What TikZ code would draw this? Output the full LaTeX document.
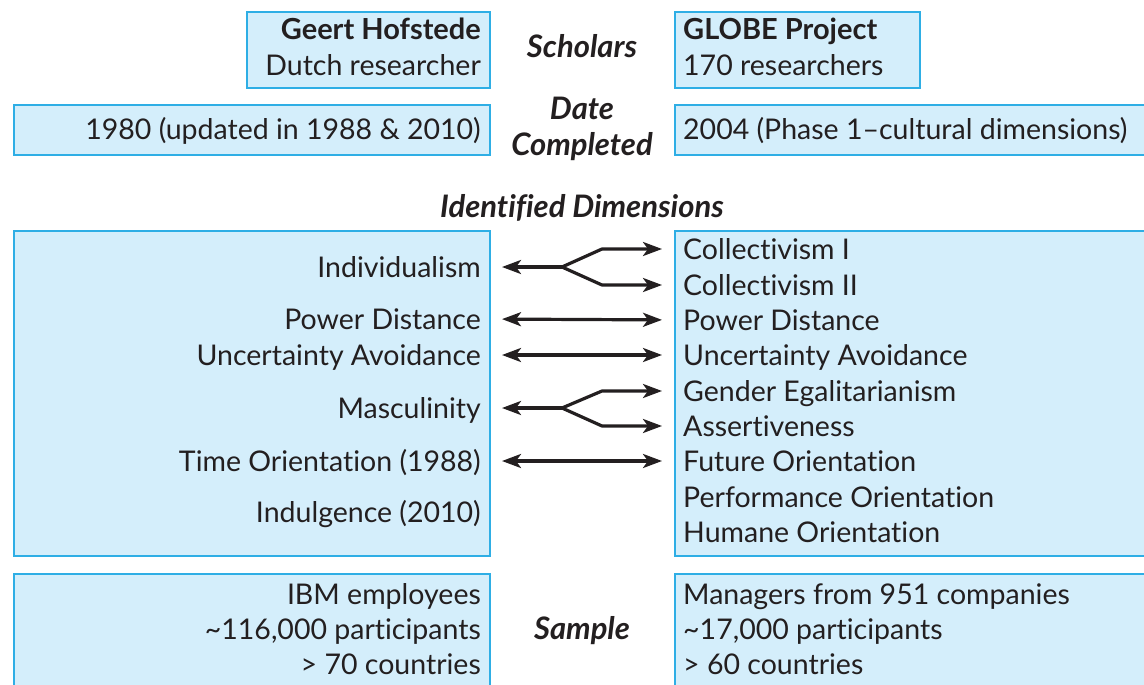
\documentclass[tikz,border=0pt]{standalone}
\usepackage{fontspec}
\setmainfont{Lato}[Ligatures=NoCommon]
\usetikzlibrary{arrows.meta}

\definecolor{boxfill}{HTML}{D4EEFB}
\definecolor{boxline}{HTML}{2EAEE5}
\definecolor{ink}{HTML}{231F20}

\tikzset{
  box/.style={draw=boxline, fill=boxfill, line width=2pt, anchor=north west, inner sep=0pt},
  dim/.style={font=\fontsize{28.5}{34}\selectfont, text=ink, inner sep=0pt, text height=20.5pt, text depth=0pt},
  ltxt/.style={dim, anchor=east},
  rtxt/.style={dim, anchor=west},
  head/.style={dim, font=\fontsize{31}{36}\selectfont\bfseries\itshape},
  boldname/.style={font=\fontsize{29}{34}\selectfont\bfseries},
  headtip/.tip={Stealth[length=19pt, width=14pt, inset=5pt]},
  link/.style={draw=ink, line width=3.2pt, line join=round},
  both/.style={link, headtip-headtip, shorten <=21pt, shorten >=21pt},
  back/.style={link, headtip-, shorten <=21pt},
  fwd/.style={link, -headtip, shorten >=21pt}
}

\begin{document}
\begin{tikzpicture}[x=1pt, y=-1pt]
  \useasboundingbox (0,0) rectangle (1144,685);
  \clip (0,0) rectangle (1144,685);

  % boxes
  \node[box, minimum width=243, minimum height=76] (hofbox) at (246,11) {};
  \node[box, minimum width=245, minimum height=76] (globebox) at (674,11) {};
  \node[box, minimum width=476, minimum height=50] (hofdate) at (13,104) {};
  \node[box, minimum width=490, minimum height=50] (globedate) at (674,104) {};
  \node[box, minimum width=476, minimum height=325] (hofdims) at (13,230) {};
  \node[box, minimum width=490, minimum height=325] (globedims) at (674,230) {};
  \node[box, minimum width=476, minimum height=140] (hofsample) at (13,573) {};
  \node[box, minimum width=490, minimum height=140] (globesample) at (674,573) {};

  % headings in the middle
  \node[head] (scholars) at (582,47) {Scholars};
  \node[head] (date) at (582,109) {Date};
  \node[head] (completed) at (582,145) {Completed};
  \node[head] (identified) at (582,207) {Identified Dimensions};
  \node[head] (sample) at (582,629) {Sample};

  % Hofstede
  \node[ltxt, boldname] (hofname) at (481,29) {Geert Hofstede};
  \node[ltxt] (hofrole) at (481,65) {Dutch researcher};
  \node[ltxt] (hofyear) at (481,129) {1980 (updated in 1988 \& 2010)};
  \node[ltxt] (ind) at (481,267) {Individualism};
  \node[ltxt] (pdl) at (481,319) {Power Distance};
  \node[ltxt] (ual) at (481,355) {Uncertainty Avoidance};
  \node[ltxt] (mas) at (481,408) {Masculinity};
  \node[ltxt] (tor) at (481,461) {Time Orientation (1988)};
  \node[ltxt] (idg) at (481,512) {Indulgence (2010)};
  \node[ltxt] (ibm) at (481,594) {IBM employees};
  \node[ltxt] (hofpart) at (481,629) {\textasciitilde116,000 participants};
  \node[ltxt] (hofctry) at (481,664) {> 70 countries};

  % GLOBE
  \node[rtxt, boldname] (globename) at (683,29) {GLOBE Project};
  \node[rtxt] (globerole) at (683,65) {170 researchers};
  \node[rtxt] (globeyear) at (683,129) {2004 (Phase 1--cultural dimensions)};
  \node[rtxt] (col1) at (683,249) {Collectivism I};
  \node[rtxt] (col2) at (683,285) {Collectivism II};
  \node[rtxt] (pdr) at (683,320) {Power Distance};
  \node[rtxt] (uar) at (683,355) {Uncertainty Avoidance};
  \node[rtxt] (geg) at (683,391) {Gender Egalitarianism};
  \node[rtxt] (ass) at (683,426) {Assertiveness};
  \node[rtxt] (fut) at (683,461) {Future Orientation};
  \node[rtxt] (perf) at (683,497) {Performance Orientation};
  \node[rtxt] (hum) at (683,532) {Humane Orientation};
  \node[rtxt] (mgr) at (683,594) {Managers from 951 companies};
  \node[rtxt] (globepart) at (683,629) {\textasciitilde17,000 participants};
  \node[rtxt] (globectry) at (683,664) {> 60 countries};

  % links between the dimensions
  \coordinate (indj) at (562,267);
  \coordinate (masj) at (562,408);
  \draw[back] (ind.east) -- (indj);
  \draw[fwd] (indj) -- ++(40,-18) -- (col1.west);
  \draw[fwd] (indj) -- ++(40,18) -- (col2.west);
  \draw[both] (pdl.east) -- (pdr.west);
  \draw[both] (ual.east) -- (uar.west);
  \draw[back] (mas.east) -- (masj);
  \draw[fwd] (masj) -- ++(40,-17) -- (geg.west);
  \draw[fwd] (masj) -- ++(40,18) -- (ass.west);
  \draw[both] (tor.east) -- (fut.west);
\end{tikzpicture}
\end{document}
